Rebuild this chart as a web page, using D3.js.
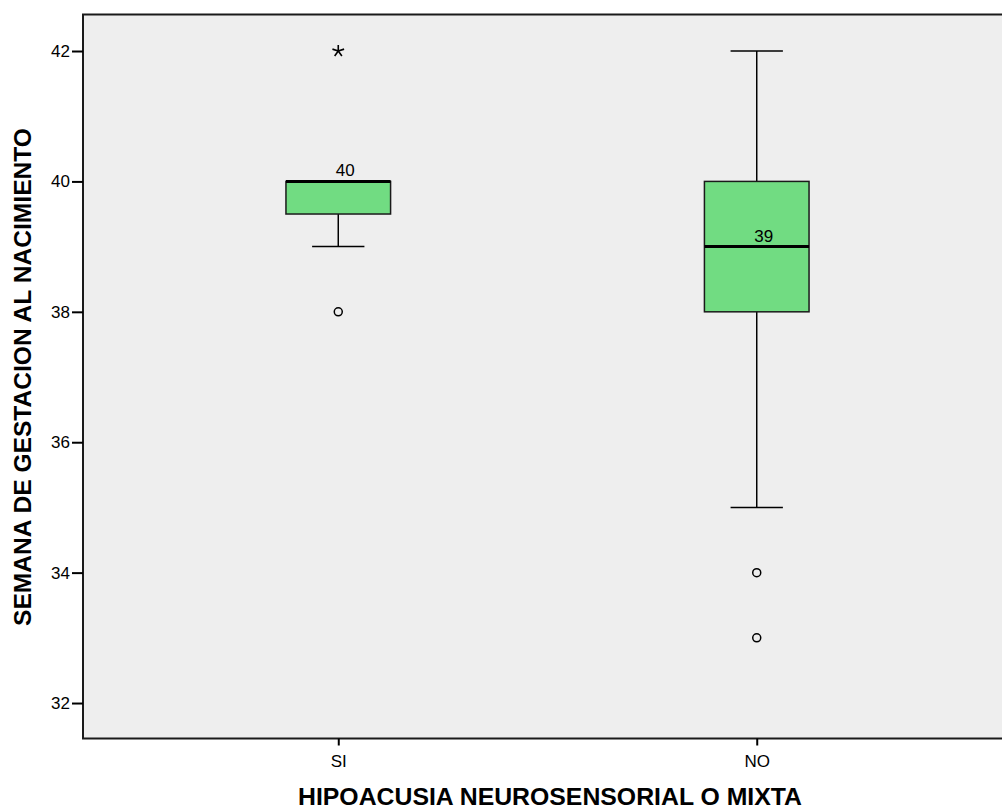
<!DOCTYPE html>
<html>
<head>
<meta charset="utf-8">
<script src="https://cdn.jsdelivr.net/npm/d3@7"></script>
<style>
  html, body { margin: 0; padding: 0; background: #fff; }
  svg { display: block; }
  text { font-family: "Liberation Sans", Arial, sans-serif; fill: #000; }
</style>
</head>
<body>
<script>
// Gestational week at birth by hearing-loss group
const categories   = ["SI", "NO"];
const whiskerLow   = [39, 35];
const q1           = [39.5, 38];
const medians      = [40, 39];
const q3           = [40, 40];
const whiskerHigh  = [40, 42];
const outliers     = [[38], [34, 33]];   // drawn as circles
const extremes     = [[42], []];         // drawn as asterisks
const yTicks       = [32, 34, 36, 38, 40, 42];

const W = 1002, H = 811;
const plot = { left: 83, top: 14.5, right: 1012, bottom: 738.5 };

const svg = d3.select("body").append("svg")
  .attr("width", W).attr("height", H);

const y = d3.scaleLinear().domain([31.456, 42.56]).range([plot.bottom, plot.top]);
const x = d3.scalePoint().domain(categories).range([plot.left, plot.right]).padding(0.61);
const boxW = x.step() * 0.25;
const capW = boxW / 2;

// five-spoke asterisk used for extreme values
const symbolStar5 = {
  draw(context, size) {
    const r = Math.sqrt(size) / 2;
    for (let k = 0; k < 5; k++) {
      const a = -Math.PI / 2 + k * 2 * Math.PI / 5;
      context.moveTo(0, 0);
      context.lineTo(r * Math.cos(a), r * Math.sin(a));
    }
  }
};

// plot background and frame
svg.append("rect")
  .attr("x", plot.left).attr("y", plot.top)
  .attr("width", plot.right - plot.left).attr("height", plot.bottom - plot.top)
  .attr("fill", "#eeeeee").attr("stroke", "#1a1a1a").attr("stroke-width", 2);

// y axis
const yAxis = svg.append("g")
  .attr("transform", `translate(${plot.left},0)`)
  .call(d3.axisLeft(y).tickValues(yTicks).tickSize(11).tickPadding(2).tickFormat(d3.format("d")));
yAxis.select(".domain").remove();
yAxis.selectAll(".tick line").attr("stroke", "#000").attr("stroke-width", 2);
yAxis.selectAll(".tick text").attr("font-size", 17).attr("font-family", "Liberation Sans, Arial, sans-serif");

// x axis
const xAxis = svg.append("g")
  .attr("transform", `translate(0,${plot.bottom})`)
  .call(d3.axisBottom(x).tickSize(7).tickPadding(9));
xAxis.select(".domain").remove();
xAxis.selectAll(".tick line").attr("stroke", "#000").attr("stroke-width", 2);
xAxis.selectAll(".tick text").attr("font-size", 17).attr("font-family", "Liberation Sans, Arial, sans-serif");

// boxes
const rows = categories.map((c, i) => ({
  c, lo: whiskerLow[i], q1: q1[i], med: medians[i], q3: q3[i], hi: whiskerHigh[i],
  out: outliers[i], ext: extremes[i]
}));

const g = svg.append("g").selectAll("g").data(rows).join("g")
  .attr("transform", d => `translate(${x(d.c)},0)`);

// whiskers
g.filter(d => d.q1 > d.lo).append("line")
  .attr("x1", 0).attr("x2", 0).attr("y1", d => y(d.q1)).attr("y2", d => y(d.lo))
  .attr("stroke", "#000").attr("stroke-width", 1.5);
g.filter(d => d.q1 > d.lo).append("line")
  .attr("x1", -capW / 2).attr("x2", capW / 2).attr("y1", d => y(d.lo)).attr("y2", d => y(d.lo))
  .attr("stroke", "#000").attr("stroke-width", 1.5);
g.filter(d => d.hi > d.q3).append("line")
  .attr("x1", 0).attr("x2", 0).attr("y1", d => y(d.q3)).attr("y2", d => y(d.hi))
  .attr("stroke", "#000").attr("stroke-width", 1.5);
g.filter(d => d.hi > d.q3).append("line")
  .attr("x1", -capW / 2).attr("x2", capW / 2).attr("y1", d => y(d.hi)).attr("y2", d => y(d.hi))
  .attr("stroke", "#000").attr("stroke-width", 1.5);

// box body
g.append("rect")
  .attr("x", -boxW / 2).attr("width", boxW)
  .attr("y", d => y(d.q3)).attr("height", d => y(d.q1) - y(d.q3))
  .attr("fill", "#71dc82").attr("stroke", "#1a1a1a").attr("stroke-width", 1.5);

// median line
g.append("line")
  .attr("x1", -boxW / 2).attr("x2", boxW / 2)
  .attr("y1", d => y(d.med)).attr("y2", d => y(d.med))
  .attr("stroke", "#000").attr("stroke-width", 3);

// median value label
g.append("text")
  .attr("x", 7).attr("y", d => y(d.med) - 5)
  .attr("text-anchor", "middle").attr("font-size", 17)
  .text(d => d3.format("d")(d.med));

// outliers
g.selectAll("circle").data(d => d.out).join("circle")
  .attr("cx", 0).attr("cy", v => y(v)).attr("r", 4)
  .attr("fill", "none").attr("stroke", "#000").attr("stroke-width", 1.5);

// extreme values
g.selectAll("path.ext").data(d => d.ext).join("path")
  .attr("class", "ext")
  .attr("transform", v => `translate(0,${y(v)})`)
  .attr("d", d3.symbol(symbolStar5, 150))
  .attr("stroke", "#000").attr("stroke-width", 1.6).attr("fill", "none");

// axis titles
svg.append("text")
  .attr("x", 550).attr("y", 805)
  .attr("text-anchor", "middle").attr("font-size", 23).attr("font-weight", "bold")
  .attr("textLength", 504).attr("lengthAdjust", "spacingAndGlyphs")
  .text("HIPOACUSIA NEUROSENSORIAL O MIXTA");

svg.append("text")
  .attr("transform", "translate(31,377) rotate(-90)")
  .attr("text-anchor", "middle").attr("font-size", 23).attr("font-weight", "bold")
  .attr("textLength", 498).attr("lengthAdjust", "spacingAndGlyphs")
  .text("SEMANA DE GESTACION AL NACIMIENTO");
</script>
</body>
</html>
